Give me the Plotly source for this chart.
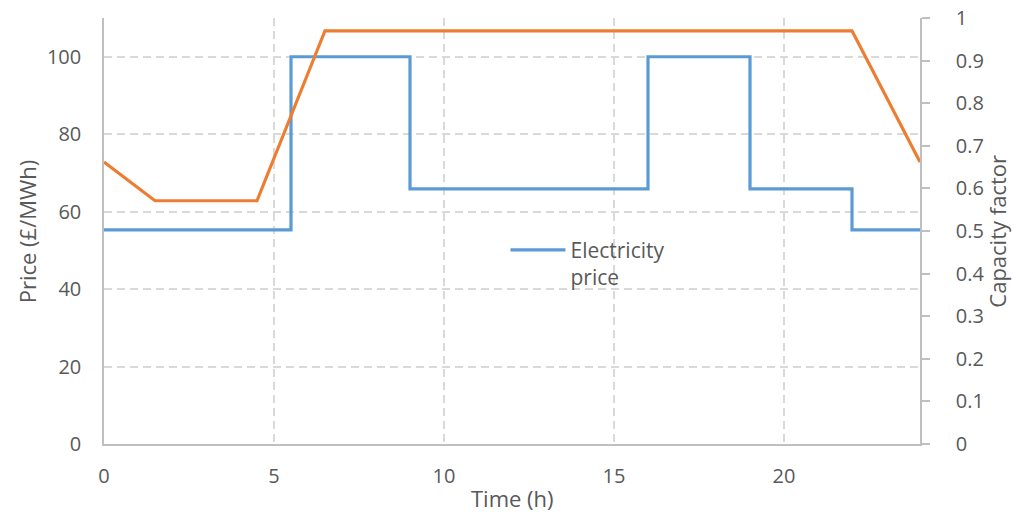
import plotly.graph_objects as go

# Electricity price (£/MWh), piecewise constant from each hour listed
price_hours = [0, 5.5, 9, 16, 19, 22, 24]
price_values = [55.3, 100, 65.9, 100, 65.9, 55.3, 55.3]

# Capacity factor profile over the day
cf_hours = [0, 1.5, 4.5, 6.5, 22, 24]
cf_values = [0.662, 0.571, 0.571, 0.970, 0.970, 0.662]

x_ticks = [0, 5, 10, 15, 20]
price_ticks = [0, 20, 40, 60, 80, 100]
cf_ticks = [0, 0.1, 0.2, 0.3, 0.4, 0.5, 0.6, 0.7, 0.8, 0.9, 1]

FONT = "Open Sans"
TXT = "#595959"
GRID = "#d9d9d9"
AXIS = "#bfbfbf"
DASH = "8px,5px"
TICK_SIZE = 20
TITLE_SIZE = 22

fig = go.Figure()
fig.add_trace(go.Scatter(
    x=price_hours, y=price_values, mode="lines", line_shape="hv",
    line=dict(color="#5B9BD5", width=3.2),
    name="Electricity<br>price", showlegend=True,
))
fig.add_trace(go.Scatter(
    x=cf_hours, y=cf_values, mode="lines", yaxis="y2",
    line=dict(color="#ED7D31", width=3.2),
    name="Capacity factor", showlegend=False,
))

fig.update_layout(
    width=1014, height=512,
    margin=dict(l=104, r=94, t=18, b=68, autoexpand=False),
    paper_bgcolor="white", plot_bgcolor="white",
    font=dict(family=FONT, color=TXT, size=TICK_SIZE),
    xaxis=dict(
        range=[0, 24], tickvals=x_ticks, showgrid=True, gridcolor=GRID,
        griddash=DASH, gridwidth=1.5, zeroline=False, automargin=False,
        showline=True, linecolor=AXIS, linewidth=1.5,
        ticks="", tickfont=dict(size=TICK_SIZE), ticklabelstandoff=13,
    ),
    yaxis=dict(
        range=[0, 110], tickvals=price_ticks, showgrid=True, gridcolor=GRID,
        griddash=DASH, gridwidth=1.5, zeroline=False, automargin=False,
        showline=True, linecolor=AXIS, linewidth=1.5,
        ticks="", tickfont=dict(size=TICK_SIZE), ticklabelstandoff=17,
    ),
    yaxis2=dict(
        range=[0, 1], overlaying="y", side="right", automargin=False,
        tickvals=cf_ticks, ticktext=[f"{v:g}" for v in cf_ticks],
        showgrid=False, zeroline=False,
        showline=True, linecolor=AXIS, linewidth=1.5,
        ticks="outside", ticklen=8, tickcolor=AXIS, tickwidth=1.5,
        tickfont=dict(size=TICK_SIZE), ticklabelstandoff=22,
    ),
    legend=dict(
        x=0.492, y=0.503, xanchor="left", yanchor="top",
        bgcolor="rgba(0,0,0,0)", font=dict(size=21), itemwidth=55,
        valign="top",
    ),
    annotations=[
        dict(text="Time (h)", xref="paper", yref="paper", x=0.5, y=-0.127,
             xanchor="center", yanchor="middle", showarrow=False,
             font=dict(size=TITLE_SIZE, color=TXT)),
        dict(text="Price (£/MWh)", xref="paper", yref="paper", x=-0.094, y=0.5,
             xanchor="center", yanchor="middle", showarrow=False, textangle=-90,
             font=dict(size=TITLE_SIZE, color=TXT)),
        dict(text="Capacity factor", xref="paper", yref="paper", x=1.094, y=0.5,
             xanchor="center", yanchor="middle", showarrow=False, textangle=-90,
             font=dict(size=TITLE_SIZE, color=TXT)),
    ],
)

fig.write_html("out.html")
